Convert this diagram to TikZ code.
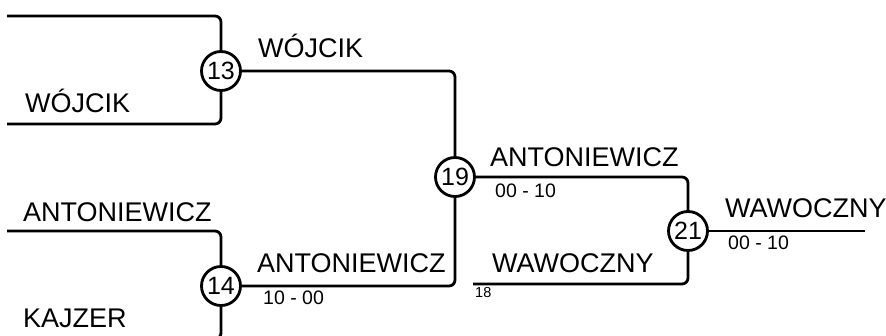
\documentclass[tikz,border=0pt]{standalone}
\usepackage{fontspec}
\setmainfont{Liberation Sans}
\usepackage{tikz}

\tikzset{
  bline/.style={line width=2.8pt,rounded corners=6pt,line cap=butt},
  match/.style={circle,draw,line width=2.8pt,minimum size=39pt,inner sep=0pt,
                font=\fontsize{25}{25}\selectfont},
  player/.style={anchor=base west,inner sep=0pt,font=\fontsize{27}{27}\selectfont},
  score/.style={anchor=base west,inner sep=0pt,font=\fontsize{19.5}{19.5}\selectfont},
  seed/.style={anchor=base west,inner sep=0pt,font=\fontsize{14.5}{14.5}\selectfont}
}

\begin{document}
\begin{tikzpicture}[x=1pt,y=-1pt,line join=round]
\useasboundingbox (0,0) rectangle (886,336);
\clip (0,0) rectangle (886,336);

% ---- match circles ----
\node[match] (m13) at (221,71) {13};
\node[match] (m14) at (221,286) {14};
\node[match] (m19) at (455,177) {19};
\node[match] (m21) at (688,231) {21};

% ---- free line ends ----
\coordinate (a13) at (7,16);
\coordinate (b13) at (7,124);
\coordinate (a14) at (7,231);
\coordinate (b14) at (7,339);
\coordinate (c21) at (473,284);
\coordinate (o21) at (865,231);

% ---- first round ----
\draw[bline] (a13) -| (m13);
\draw[bline] (b13) -| (m13);
\draw[bline] (a14) -| (m14);
\draw[bline] (b14) -| (m14);

% ---- later rounds ----
\draw[bline] (m13) -| (m19);
\draw[bline] (m14) -| (m19);
\draw[bline] (m19) -| (m21);
\draw[bline] (c21) -| (m21);
\draw[bline] (m21) -- (o21);

% ---- names ----
\node[player] (p1) at (25,113) {WÓJCIK};
\node[player] (p2) at (258,58) {WÓJCIK};
\node[player] (p3) at (23,222) {ANTONIEWICZ};
\node[player] (p4) at (23,328) {KAJZER};
\node[player] (p5) at (257,273) {ANTONIEWICZ};
\node[player] (p6) at (490,167) {ANTONIEWICZ};
\node[player] (p7) at (492,273) {WAWOCZNY};
\node[player] (p8) at (725,218) {WAWOCZNY};

% ---- scores ----
\node[score] (s14) at (263,305) {10 - 00};
\node[score] (s19) at (495,198) {00 - 10};
\node[score] (s21) at (728,250) {00 - 10};
\node[seed] (n18) at (475,298) {18};
\end{tikzpicture}
\end{document}
